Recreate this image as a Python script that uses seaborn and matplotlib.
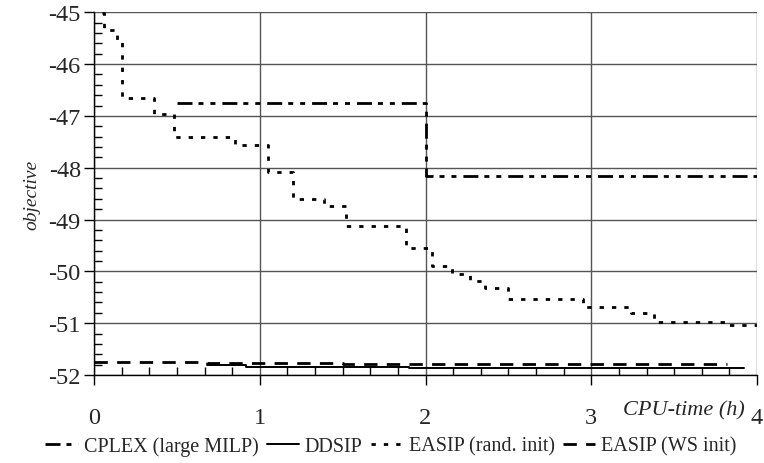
import numpy as np
import pandas as pd
import matplotlib
matplotlib.use("Agg")
import matplotlib.pyplot as plt
import seaborn as sns

# ---- data ----
cplex_t = [0.50, 2.00, 4.00]
cplex_v = [-46.76, -48.16, -48.16]

ddsip_t = [0.68, 0.92, 1.90, 3.92]
ddsip_v = [-51.81, -51.85, -51.87, -51.87]

easip_rand_t = [0.05, 0.06, 0.14, 0.17, 0.36, 0.48, 0.85, 1.05, 1.20, 1.39, 1.52,
                1.88, 2.04, 2.16, 2.27, 2.36, 2.50, 2.95, 3.24, 3.38, 3.83, 4.00]
easip_rand_v = [-45.02, -45.34, -45.55, -46.66, -46.96, -47.41, -47.57, -48.08,
                -48.60, -48.73, -49.13, -49.54, -49.90, -50.06, -50.19, -50.33,
                -50.53, -50.68, -50.81, -50.98, -51.04, -51.04]

easip_ws_t = [0.00, 0.68, 1.50, 3.82]
easip_ws_v = [-51.74, -51.76, -51.79, -51.79]

series_names = ["CPLEX (large MILP)", "DDSIP", "EASIP (rand. init)", "EASIP (WS init)"]
x_ticks = [0, 1, 2, 3, 4]
y_ticks = [-45, -46, -47, -48, -49, -50, -51, -52]

frames = []
for name, t, v in zip(series_names,
                      [cplex_t, ddsip_t, easip_rand_t, easip_ws_t],
                      [cplex_v, ddsip_v, easip_rand_v, easip_ws_v]):
    frames.append(pd.DataFrame({"time": t, "objective": v, "series": name}))
df = pd.concat(frames, ignore_index=True)

# ---- style ----
sns.set_theme(style="white")
plt.rcParams["font.family"] = ["Liberation Serif", "DejaVu Serif"]
plt.rcParams["axes.unicode_minus"] = False
plt.rcParams["lines.scale_dashes"] = False

fig = plt.figure(figsize=(7.64, 4.64), dpi=100)
ax = fig.add_axes([94 / 764, 1 - 376 / 464, (757 - 94) / 764, (376 - 13.3) / 464])

dashes = {
    "CPLEX (large MILP)": (10.8, 4.3, 3.6, 5.0, 3.6, 5.0),
    "DDSIP": "",
    "EASIP (rand. init)": (3.1, 5.8),
    "EASIP (WS init)": (9.6, 6.7),
}
widths = {"CPLEX (large MILP)": 2.0, "DDSIP": 1.4,
          "EASIP (rand. init)": 2.0, "EASIP (WS init)": 2.0}

for name in series_names:
    sub = df[df["series"] == name]
    sns.lineplot(data=sub, x="time", y="objective", ax=ax, color="black",
                 estimator=None, sort=False, drawstyle="steps-post",
                 linewidth=widths[name], dashes=False, label=name)
    line = ax.get_lines()[-1]
    if dashes[name]:
        line.set_dashes(dashes[name])
        line.set_dash_capstyle("butt")

ax.set_xlim(0, 4)
ax.set_ylim(-52, -45)
ax.set_xticks(x_ticks)
ax.set_yticks(y_ticks)
ax.set_xticks(np.arange(0, 4.0001, 1 / 6), minor=True)
ax.set_yticks(np.arange(-52, -44.99, 0.2), minor=True)
ax.grid(True, which="major", color="#555555", linewidth=1.0)
ax.set_axisbelow(True)

for s in ["top", "right"]:
    ax.spines[s].set_visible(False)
for s in ["left", "bottom"]:
    ax.spines[s].set_color("black")
    ax.spines[s].set_linewidth(1.0)

ax.tick_params(axis="both", which="major", direction="out", length=7, width=1,
               color="black", labelsize=17.5, bottom=True, left=True)
ax.tick_params(axis="x", which="major", pad=16)
ax.tick_params(axis="y", which="major", pad=2.5)
ax.tick_params(axis="both", which="minor", direction="in", length=6, width=1,
               color="black", bottom=True, left=True)

ax.set_xlabel("")
ax.set_ylabel("objective", fontstyle="italic", fontsize=14, labelpad=6)
ax.text((745 - 94) / 663, (376 - 411) / 362.7, "CPU-time (h)", transform=ax.transAxes,
        ha="right", va="center", fontstyle="italic", fontsize=16)

leg = ax.legend(loc="center", bbox_to_anchor=(391 / 764, 1 - 447 / 464),
                bbox_transform=fig.transFigure,
                ncol=4, frameon=False, fontsize=14.5, handlelength=1.6,
                handletextpad=0.3, columnspacing=0.4)

fig.savefig("out.png", dpi=100)
